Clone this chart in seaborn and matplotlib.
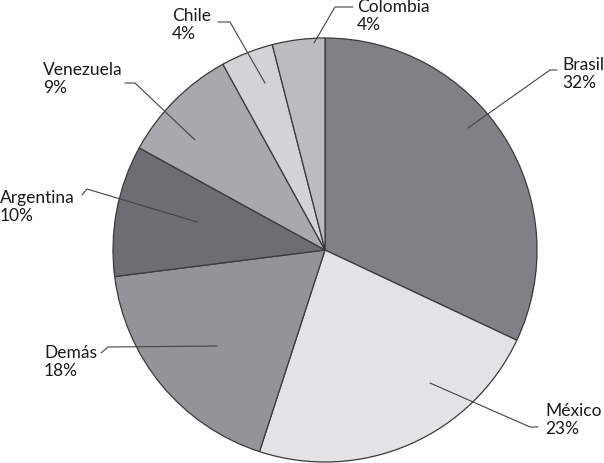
import matplotlib.pyplot as plt
import seaborn as sns

# data
countries = ["Brasil", "México", "Demás", "Argentina", "Venezuela", "Chile", "Colombia"]
shares = [32, 23, 18, 10, 9, 4, 4]
colors = ["#808185", "#e2e3e5", "#939498", "#6d6e72", "#a8a9ac", "#d2d3d5", "#bbbcbe"]

# label layout (pixel coords, y from top): text left/top, leader points
label_pos = {
    "Brasil": (562, 57),
    "México": (545, 403),
    "Demás": (44, 345),
    "Argentina": (0, 190),
    "Venezuela": (43, 62),
    "Chile": (172, 8),
    "Colombia": (357, -1),
}
leaders = {
    "Brasil": [(468, 128), (550, 70), (557, 70)],
    "México": [(430, 383), (530, 427), (538, 427)],
    "Demás": [(217, 346), (108, 347), (101, 353)],
    "Argentina": [(197, 222), (87, 189), (82, 195)],
    "Venezuela": [(195, 140), (135, 83), (125, 83)],
    "Chile": [(265, 83), (230, 22), (218, 22)],
    "Colombia": [(314, 43), (335, 7), (353, 7)],
}

W, H = 604, 463
sns.set_style("white")
plt.rcParams["font.family"] = ["Lato", "DejaVu Sans"]

fig = plt.figure(figsize=(W / 100, H / 100), dpi=100)
ax = fig.add_axes([0, 0, 1, 1])

ax.pie(
    shares,
    colors=colors,
    startangle=90,
    counterclock=False,
    center=(325, H - 250),
    radius=212,
    wedgeprops=dict(edgecolor="#3a3a3a", linewidth=0.9),
    frame=True,
)

for name, share in zip(countries, shares):
    pts = leaders[name]
    ax.plot([p[0] for p in pts], [H - p[1] for p in pts], color="#444444", lw=0.8)
    tx, ty = label_pos[name]
    ax.text(tx, H - ty, f"{name}\n{share}%", ha="left", va="top",
            fontsize=12.5, linespacing=1.12, color="#1a1a1a")

ax.set_xlim(0, W)
ax.set_ylim(0, H)
ax.set_aspect("equal")
ax.axis("off")

fig.savefig("out.png", dpi=100)
